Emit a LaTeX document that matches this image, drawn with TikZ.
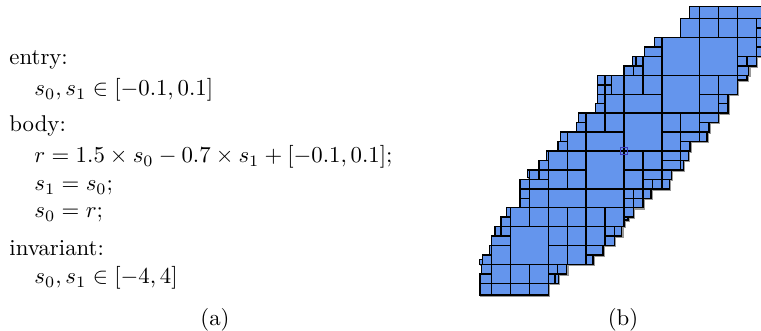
\documentclass[tikz,border=0pt]{standalone}
\definecolor{boxblue}{HTML}{6495ED}
\definecolor{markblue}{HTML}{3A3AB8}
\tikzset{
  txt/.style={anchor=base west, inner sep=0pt},
  captxt/.style={anchor=base, inner sep=0pt},
  pavefill/.style={fill=boxblue},
  paveshadow/.style={draw=black!40, line width=0.6pt},
  paveline/.style={draw=black, line width=0.65pt},
}
\def\boxlist{%
-0.62/-0.62/0/0, 0/-0.62/1/0, 1/-0.62/2/0, 2/-0.62/3/0,
-0.62/0/0/0.5, -0.55/0.5/0/1, 0/0/1/1, 1/0/2/1, 2/0/3/1, 3/0/3.35/0.5, 3.35/0/3.53/0.5, 3/0.5/3.47/1, 3.47/0.5/3.97/1,
-0.65/1/-0.49/1.25,
-0.49/1/0/1.5, -0.12/1.5/0/2, 0/1/1/2, 1/1/3/3, 3/1/4/2, 4/1/5/2, 5/1.5/5.9/2, 5/1/5.35/1.5,
0/2/1/2.5, 0.17/2.5/0.49/3, 0.49/2.5/1/3, 3/2/4/3, 4/2/5/3, 5/2/6/3, 6/2.5/6.5/3, 6.5/2.5/6.88/3, 6/2/6.5/2.5,
0.79/3.5/1/4, 0.49/3/1/3.5, 1/3/2/4, 2/3/3/4, 3/3/4/4, 4/3/5/4, 5/3/6/4, 6/3/7/4, 7/3.5/7.5/4, 7/3.36/7.2/3.5,
1.5/4.5/2/5, 1.5/4/2/4.5, 2/4/3/5, 3/4/5/5, 5/4/7/5, 7/4.5/7.5/5, 7.5/4.5/8/5, 8/4.5/8.42/5, 7/4/7.5/4.5, 7.5/4/8/4.5,
1.5/5/2/5.5, 2/5/3/5.5, 2/5.5/2.5/6, 2.5/5.5/3/6, 1.89/5.6/2/6, 3/5/4/6, 4/5/5/6, 5/5/7/7, 7/5/8/6, 8/5.5/9/6, 9/5.5/9.5/6, 8/5/8.5/5.5, 8.5/5/9/5.5, 9/5/9.4/5.5,
2.91/6.5/3/7, 2.5/6/3/6.5, 3/6/4/7, 4/6/5/7, 7/6/8/7, 8/6/9/7, 9/6.5/10/7, 10/6.5/10.4/7, 9/6/10/6.5, 10/6/10.15/6.5,
3.63/7.5/4/8, 3.5/7/4/7.5, 4/7/5/8, 5/7/7/8, 7/7/9/9, 9/7/10/8, 10/7.5/11/8, 11/7.5/11.4/8, 10/7/10.5/7.5,
4.58/8.5/5/9, 4.5/8/5/8.5, 5/8/6/9, 6/8/7/9, 9/8/10/9, 10/8/11/9, 11/8.5/12/9, 11/8/11.5/8.5,
5.59/9.5/6/10, 5.5/9/6/9.5, 6/9/7/10, 7/9/9/10, 9/9/11/11, 11/9/12/10, 12/9.5/12.5/10, 12/9/12.5/9.5,
5.59/10.5/6/11, 6/10.5/6.33/11, 5.59/10/6/10.5, 6/10/6.33/10.5, 6.33/10/7/11, 7/10/8/11, 8/10/9/11, 11/10/12/11, 12/10/13/11, 13/10.75/13.5/11,
7.46/11.5/7.63/12, 7.63/11.5/8/12, 7/11/7.5/11.5, 7.5/11/8/11.5, 8/11/9/12, 9/11/11/13, 11/11/13/13, 13/11.5/13.5/12, 13.5/11.5/14/12, 13/11/13.6/11.5,
8.6/12.5/9/13, 8.08/12/9/12.5, 13/12/14/13, 14/12.5/14.64/13, 14/12/14.64/12.5,
10/13/11/14, 11/13/12/14, 12/13/13/14, 13/13/14/14, 14/13.5/14.64/14, 14/13/14.64/13.5,
10.46/14/11/14.64, 11/14/12/14.64, 12/14/13/14.64, 13/14/14.64/14.64}
\begin{document}
\begin{tikzpicture}[x=0.4386pt, y=-0.4386pt]
\useasboundingbox (0,0) rectangle (761,331);
% (a) program text
\node[txt] (entry) at (9,65) {entry:};
\node[txt] (entryset) at (34,96) {$s_0, s_1 \in [-0.1, 0.1]$};
\node[txt] (body) at (9,132) {body:};
\node[txt] (bodyr) at (34,163) {$r = 1.5 \times s_0 - 0.7 \times s_1 + [-0.1, 0.1];$};
\node[txt] (bodys1) at (34,191) {$s_1 = s_0;$};
\node[txt] (bodys0) at (34,218) {$s_0 = r;$};
\node[txt] (inv) at (9,256) {invariant:};
\node[txt] (invset) at (34,284) {$s_0, s_1 \in [-4, 4]$};
\node[captxt] (capa) at (215,326) {(a)};
\node[captxt] (capb) at (623,326) {(b)};
% (b) paving
\begin{scope}
\clip (0,0) rectangle (761,331);
\begin{scope}[shift={(215.66pt,-124.26pt)}, x=8.2895pt, y=8.2895pt]
\begin{scope}[shift={(0.06,-0.06)}]
\foreach \a/\b/\c/\d in \boxlist { \draw[paveshadow] (\a,\b) rectangle (\c,\d); }
\end{scope}
\foreach \a/\b/\c/\d in \boxlist { \fill[pavefill] (\a,\b) rectangle (\c,\d); }
\foreach \a/\b/\c/\d in \boxlist { \draw[paveline] (\a,\b) rectangle (\c,\d); }
\draw[markblue, line width=0.4pt] (6.8,6.8) rectangle (7.2,7.2);
\end{scope}
\end{scope}
\end{tikzpicture}
\end{document}
